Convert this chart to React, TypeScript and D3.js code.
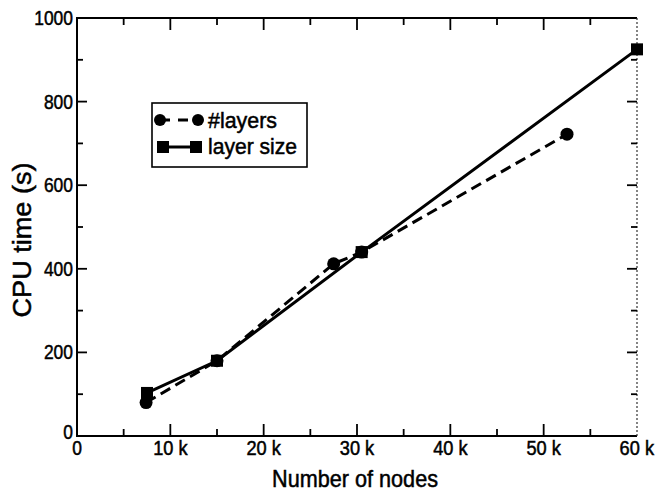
import React from "react";
import * as d3 from "d3";

// values
const layersNodes = [7400, 15000, 27500, 30500, 52500];
const layersCpu = [80, 180, 412, 440, 722];
const sizeNodes = [7500, 15000, 30500, 60000];
const sizeCpu = [103, 180, 440, 925];
const xTicks = [0, 10000, 20000, 30000, 40000, 50000, 60000];
const xTickLabels = ["0", "10 k", "20 k", "30 k", "40 k", "50 k", "60 k"];
const yTicks = [0, 200, 400, 600, 800, 1000];
const seriesNames = ["#layers", "layer size"];

const W = 656;
const H = 493;
const margin = { left: 77, right: 19, top: 18, bottom: 57 };
const FONT = "'Liberation Sans', Arial, sans-serif";

// the original uses a condensed face, so squeeze text to the measured widths
const labelWidth = (s: string) =>
  s.split("").reduce((w, c) => w + (c === " " ? 4 : c === "k" ? 11 : 9.7), 0);

export default function App() {
  const x = d3.scaleLinear().domain([0, 60000]).range([margin.left, W - margin.right]);
  const y = d3.scaleLinear().domain([0, 1000]).range([H - margin.bottom, margin.top]);
  const x0 = x.range()[0], x1 = x.range()[1];
  const y0 = y.range()[0], y1 = y.range()[1];

  const line = d3
    .line<[number, number]>()
    .x((d) => x(d[0]))
    .y((d) => y(d[1]));
  const layersPts = layersNodes.map((n, i) => [n, layersCpu[i]] as [number, number]);
  const sizePts = sizeNodes.map((n, i) => [n, sizeCpu[i]] as [number, number]);

  const minorX = d3.range(0, 60001, 5000);
  const minorY = d3.range(0, 1001, 100);

  const txt = { stroke: "#000", strokeWidth: 0.5, lengthAdjust: "spacingAndGlyphs" as const };

  return (
    <svg width={W} height={H} style={{ position: "absolute", left: 0, top: 0, background: "#fff" }}>
      <g fontFamily={FONT} fill="#000">
        {/* frame */}
        <line x1={x0} x2={x0} y1={y0 + 1} y2={y1 - 1} stroke="#000" strokeWidth={2} />
        <line x1={x0} x2={x1} y1={y0} y2={y0} stroke="#000" strokeWidth={2} />
        <line x1={x0} x2={x1} y1={y1} y2={y1} stroke="#000" strokeWidth={2} />
        <line x1={x1} x2={x1} y1={y0} y2={y1} stroke="#333" strokeWidth={1.2} strokeDasharray="2 2" />

        {/* x ticks bottom & top */}
        {minorX.map((v) => {
          const major = v % 10000 === 0;
          const len = major ? 12 : 7;
          if (v === 0 || v === 60000) return null;
          return (
            <g key={"xt" + v}>
              <line x1={x(v)} x2={x(v)} y1={y0} y2={y0 - len} stroke="#000" strokeWidth={1.8} />
              <line x1={x(v)} x2={x(v)} y1={y1} y2={y1 + len} stroke="#000" strokeWidth={1.8} />
            </g>
          );
        })}
        {/* y ticks left & right */}
        {minorY.map((v) => {
          const major = v % 200 === 0;
          const len = major ? 10 : 6;
          if (v === 0 || v === 1000) return null;
          return (
            <g key={"yt" + v}>
              <line x1={x0} x2={x0 + len} y1={y(v)} y2={y(v)} stroke="#000" strokeWidth={1.8} />
              <line x1={x1} x2={x1 - len} y1={y(v)} y2={y(v)} stroke="#000" strokeWidth={1.8} />
            </g>
          );
        })}

        {/* tick labels */}
        {xTicks.map((v, i) => (
          <text key={"xl" + v} x={Math.min(x(v), W - 2 - labelWidth(xTickLabels[i]) / 2)} y={y0 + 19}
            textAnchor="middle" fontSize={20} textLength={labelWidth(xTickLabels[i])} {...txt}>
            {xTickLabels[i]}
          </text>
        ))}
        {yTicks.map((v) => (
          <text key={"yl" + v} x={x0 - 4} y={y(v) + 7 - (v === 0 ? 4 : 0)} textAnchor="end" fontSize={21}
            textLength={labelWidth(String(v))} {...txt}>
            {v}
          </text>
        ))}

        {/* axis titles */}
        <text x={355} y={487} textAnchor="middle" fontSize={24} textLength={166} {...txt}>
          Number of nodes
        </text>
        <text transform={`translate(31,240) rotate(-90)`} textAnchor="middle" fontSize={25}
          textLength={155} {...txt}>
          CPU time (s)
        </text>

        {/* series */}
        <path d={line(layersPts) ?? ""} fill="none" stroke="#000" strokeWidth={3} strokeDasharray="11 6" />
        <path d={line(sizePts) ?? ""} fill="none" stroke="#000" strokeWidth={3} />
        {layersPts.map((d, i) => (
          <circle key={"c" + i} cx={x(d[0])} cy={y(d[1])} r={6.5} fill="#000" />
        ))}
        {sizePts.map((d, i) => (
          <rect key={"s" + i} x={x(d[0]) - 6} y={y(d[1]) - 6} width={12} height={12} fill="#000" />
        ))}

        {/* legend */}
        <rect x={152} y={103} width={155} height={64} fill="#fff" stroke="#000" strokeWidth={1.6} />
        <line x1={160} x2={198} y1={120} y2={120} stroke="#000" strokeWidth={3} strokeDasharray="10 8" />
        <circle cx={160} cy={120} r={6} />
        <circle cx={198} cy={120} r={6} />
        <text x={208} y={128} fontSize={22} textLength={69} {...txt}>{seriesNames[0]}</text>
        <line x1={163} x2={195} y1={147} y2={147} stroke="#000" strokeWidth={3} />
        <rect x={157} y={141} width={12} height={12} />
        <rect x={190} y={141} width={12} height={12} />
        <text x={208} y={154} fontSize={22} textLength={89} {...txt}>{seriesNames[1]}</text>
      </g>
    </svg>
  );
}
